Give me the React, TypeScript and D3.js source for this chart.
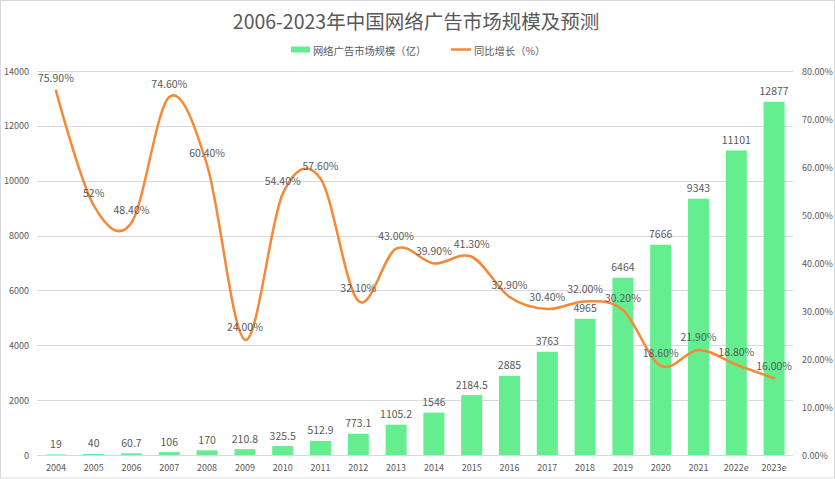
import React from "react";
import * as d3 from "d3";

const categories = ["2004","2005","2006","2007","2008","2009","2010","2011","2012","2013","2014","2015","2016","2017","2018","2019","2020","2021","2022e","2023e"];
const marketSize = [19,40,60.7,106,170,210.8,325.5,512.9,773.1,1105.2,1546,2184.5,2885,3763,4965,6464,7666,9343,11101,12877];
const marketLabels = ["19","40","60.7","106","170","210.8","325.5","512.9","773.1","1105.2","1546","2184.5","2885","3763","4965","6464","7666","9343","11101","12877"];
const growth = [75.9,52,48.4,74.6,60.4,24.0,54.4,57.6,32.1,43.0,39.9,41.3,32.9,30.4,32.0,30.2,18.6,21.9,18.8,16.0];
const growthLabels = ["75.90%","52%","48.40%","74.60%","60.40%","24.00%","54.40%","57.60%","32.10%","43.00%","39.90%","41.30%","32.90%","30.40%","32.00%","30.20%","18.60%","21.90%","18.80%","16.00%"];
const leftTicks = [0,2000,4000,6000,8000,10000,12000,14000];
const rightTicks = [0,10,20,30,40,50,60,70,80];

const title = "2006-2023年中国网络广告市场规模及预测";
const legendBar = "网络广告市场规模（亿）";
const legendLine = "同比增长（%）";

const W = 835, H = 479;
const plot = { left: 37, right: 793, top: 71, bottom: 455 };
const FONT = "'Noto Sans CJK SC', 'Noto Sans', sans-serif";
const TXT = "#595959";
const GREEN = "#64EE90";
const ORANGE = "#F5893A";

export default function App() {
  const xc = d3.scaleBand<string>().domain(categories).range([plot.left, plot.right]);
  const yL = d3.scaleLinear().domain([0, 14000]).range([plot.bottom, plot.top]);
  const yR = d3.scaleLinear().domain([0, 80]).range([plot.bottom, plot.top]);
  const cx = (c: string) => (xc(c) as number) + xc.bandwidth() / 2;
  const bw = xc.step() / 1.8;

  const line = d3.line<number>()
    .x((_, i) => cx(categories[i]))
    .y((d) => yR(d))
    .curve(d3.curveCardinal.tension(0));

  return (
    <svg width={W} height={H} style={{ position: "fixed", left: 0, top: 0, background: "#fff" }} fontFamily={FONT}>
      <rect x={0.5} y={0.5} width={W - 1} height={H - 1.5} fill="#fff" stroke="#d9d9d9" />
      <text x={416} y={20} textAnchor="middle" dominantBaseline="central" fontSize={19.5} fill={TXT}>{title}</text>
      {/* legend */}
      <rect x={291} y={46.5} width={19} height={6} fill={GREEN} />
      <text x={313} y={50} dominantBaseline="central" fontSize={10.3} fill={TXT}>{legendBar}</text>
      <line x1={451} x2={471} y1={49.5} y2={49.5} stroke={ORANGE} strokeWidth={2.5} />
      <text x={474} y={50} dominantBaseline="central" fontSize={10.3} fill={TXT}>{legendLine}</text>

      {/* gridlines */}
      {leftTicks.map((t) => (
        <line key={"g" + t} x1={plot.left} x2={plot.right} y1={Math.round(yL(t)) + 0.5} y2={Math.round(yL(t)) + 0.5} stroke="#d9d9d9" strokeWidth={1} />
      ))}
      {leftTicks.map((t) => (
        <text key={"l" + t} x={29} y={yL(t)} textAnchor="end" dominantBaseline="central" fontSize={9} fill={TXT}>{t}</text>
      ))}
      {rightTicks.map((t) => (
        <text key={"r" + t} x={802} y={yR(t)} dominantBaseline="central" fontSize={9} fill={TXT}>{t.toFixed(2) + "%"}</text>
      ))}
      {categories.map((c) => (
        <text key={"x" + c} x={cx(c)} y={467} textAnchor="middle" dominantBaseline="central" fontSize={9} fill={TXT}>{c}</text>
      ))}

      {/* bars */}
      {categories.map((c, i) => (
        <rect key={"b" + c} x={cx(c) - bw / 2} y={yL(marketSize[i])} width={bw} height={plot.bottom - yL(marketSize[i])} fill={GREEN} />
      ))}
      {categories.map((c, i) => (
        <text key={"bl" + c} x={cx(c)} y={yL(marketSize[i]) - 11} textAnchor="middle" dominantBaseline="central" fontSize={10.5} fill={TXT}>{marketLabels[i]}</text>
      ))}

      {/* line */}
      <path d={line(growth) || ""} fill="none" stroke={ORANGE} strokeWidth={2.5} strokeLinecap="round" />
      {categories.map((c, i) => (
        <text key={"ll" + c} x={cx(c)} y={yR(growth[i]) - 13} textAnchor="middle" dominantBaseline="central" fontSize={10.5} fill={TXT}>{growthLabels[i]}</text>
      ))}
    </svg>
  );
}
